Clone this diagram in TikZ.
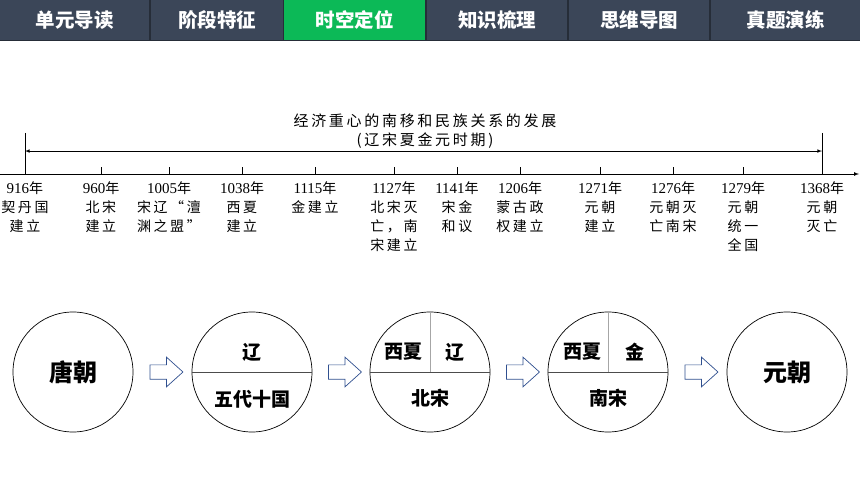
\documentclass[tikz,border=0pt]{standalone}
\usepackage{fontspec}
\setmainfont{Liberation Serif}
\newfontfamily\cjk{Noto Sans CJK SC}
\newfontfamily\cjksp[LetterSpace=18]{Noto Sans CJK SC}
\usetikzlibrary{positioning,calc,shapes.arrows}
\definecolor{tabgray}{HTML}{3B4658}
\definecolor{tabdark}{HTML}{262D38}
\definecolor{tabgreen}{HTML}{0CB957}
\definecolor{arrowblue}{HTML}{2F4F8F}
\tikzset{
  tab/.style={fill=tabgray, text=white, font=\cjk\bfseries\fontsize{19.5}{19.5}\selectfont,
    minimum height=40, inner sep=0, anchor=north west},
  ev/.style={anchor=north, align=center, inner sep=0,
    font=\cjksp\fontsize{14}{19}\selectfont},
  era/.style={draw, circle, minimum size=120, inner sep=0, line width=0.7},
  lab/.style={font=\cjk\bfseries\fontsize{19}{19}\selectfont, inner sep=0},
  big/.style={font=\cjk\bfseries\fontsize{24}{24}\selectfont, inner sep=0},
  blk/.style={single arrow, draw=arrowblue, fill=white, line width=0.7,
    inner xsep=0, inner ysep=6.8, single arrow head extend=7.7,
    single arrow tip angle=84, minimum height=33}
}
\begin{document}
\begin{tikzpicture}[x=1pt,y=-1pt]
    \useasboundingbox (0,0) rectangle (860,484);
    % top bar
    \fill[tabdark] (0,0) rectangle (860,41);
    \foreach \i/\x/\w/\c/\t in {1/0/149/tabgray/单元导读, 2/151/132/tabgray/阶段特征,
        3/284/141/tabgreen/时空定位, 4/427/140/tabgray/知识梳理,
        5/569/140/tabgray/思维导图, 6/711/149/tabgray/真题演练}
      \node[tab, fill=\c, minimum width=\w] (t\i) at (\x,0) {\t};
    % timeline
    \coordinate (ax0) at (0,174);
    \coordinate (ax1) at (859,174);
    \draw[-latex, line width=0.7] (ax0) -- (ax1);
    \coordinate (lt) at (25,133);
    \coordinate (lb) at (25,174);
    \coordinate (rt) at (822,133);
    \coordinate (rb) at (822,174);
    \draw[line width=0.8] (lt) -- (lb);
    \draw[line width=0.8] (rt) -- (rb);
    \draw[latex-latex, line width=0.6] ($(lt)!0.44!(lb)$) -- ($(rt)!0.44!(rb)$);
    \node[font=\cjksp\fontsize{15}{15}\selectfont, inner sep=0] (ttl) at (425,121) {经济重心的南移和民族关系的发展};
    \node[font=\cjksp\fontsize{15}{15}\selectfont, inner sep=0] (sub) at (425,141) {(辽宋夏金元时期)};
    \foreach \x in {101,169,242,315,394,457,520,600,673,743}
      \draw[line width=0.7] (\x,174) -- (\x,167);
    \foreach \x/\y/\t in {25/916/{契丹国\\建立}, 101/960/{北宋\\建立},
        169/1005/{宋辽“澶\\渊之盟”}, 242/1038/{西夏\\建立}, 315/1115/{金建立},
        394/1127/{北宋灭\\亡，南\\宋建立}, 457/1141/{宋金\\和议},
        520/1206/{蒙古政\\权建立}, 600/1271/{元朝\\建立}, 673/1276/{元朝灭\\亡南宋},
        743/1279/{元朝\\统一\\全国}, 822/1368/{元朝\\灭亡}}
      \node[ev] (e\y) at (\x,181) {{\rmfamily\fontsize{15}{19}\selectfont\y}年\\\t};
    % dynasties
    \node[era] (c1) at (73,372) {};
    \node[era] (c2) at (252,372) {};
    \node[era] (c3) at (430,372) {};
    \node[era] (c4) at (608,372) {};
    \node[era] (c5) at (787,372) {};
    \draw[gray!60!black, line width=0.7] (c2.west) -- (c2.east);
    \draw[gray!60!black, line width=0.7] (c3.west) -- (c3.east);
    \draw[gray!60!black, line width=0.7] (c4.west) -- (c4.east);
    \draw[gray!70, line width=0.7] (c3.north) -- (c3.center);
    \draw[gray!70, line width=0.7] (c4.north) -- (c4.center);
    \node[big] (tang) at (c1) {唐朝};
    \node[lab] (liao1) at ($(c2)+(0,-20)$) {辽};
    \node[lab] (wudai) at ($(c2)+(0,27)$) {五代十国};
    \node[lab] (xixia1) at ($(c3)+(-27,-20)$) {西夏};
    \node[lab] (liao2) at ($(c3)+(25,-20)$) {辽};
    \node[lab] (beisong) at ($(c3)+(0,26)$) {北宋};
    \node[lab] (xixia2) at ($(c4)+(-26,-20)$) {西夏};
    \node[lab] (jin) at ($(c4)+(27,-20)$) {金};
    \node[lab] (nansong) at ($(c4)+(0,26)$) {南宋};
    \node[big] (yuan) at (c5) {元朝};
    \node[blk] (a1) at ($(c1.east)!0.5!(c2.west)$) {};
    \node[blk] (a2) at ($(c2.east)!0.5!(c3.west)$) {};
    \node[blk] (a3) at ($(c3.east)!0.5!(c4.west)$) {};
    \node[blk] (a4) at ($(c4.east)!0.5!(c5.west)$) {};
  \end{tikzpicture}
\end{document}
